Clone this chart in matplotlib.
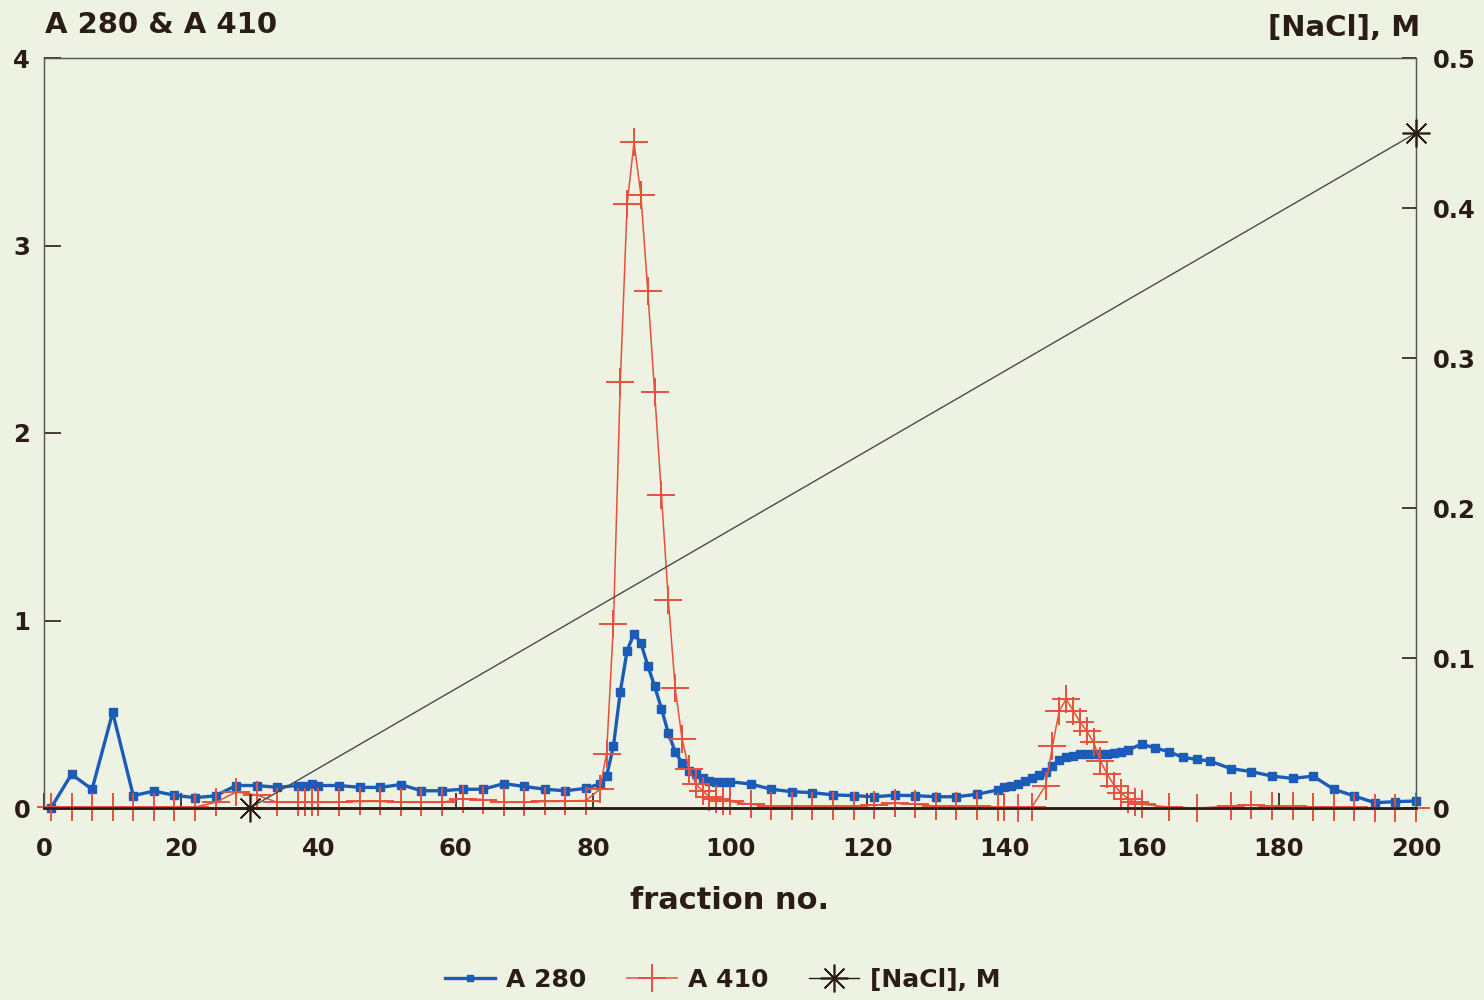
import matplotlib
matplotlib.use("Agg")
import matplotlib.pyplot as plt
from matplotlib.lines import Line2D

# A 280 (blue squares)
a280_frac = [1, 4, 7, 10, 13, 16, 19, 22, 25, 28, 31, 34, 37, 38, 39, 40, 43, 46, 49,
             52, 55, 58, 61, 64, 67, 70, 73, 76, 79, 81, 82, 83, 84, 85, 86, 87, 88, 89,
             90, 91, 92, 93, 94, 95, 96, 97, 98, 99, 100, 103, 106, 109, 112, 115, 118,
             121, 124, 127, 130, 133, 136, 139, 140, 141, 142, 143, 144, 145, 146, 147,
             148, 149, 150, 151, 152, 153, 154, 155, 156, 157, 158, 160, 162, 164, 166,
             168, 170, 173, 176, 179, 182, 185, 188, 191, 194, 197, 200]
a280_val = [0.0, 0.18, 0.10, 0.51, 0.066, 0.09, 0.068, 0.055, 0.065, 0.12, 0.12, 0.11,
            0.12, 0.12, 0.13, 0.12, 0.12, 0.11, 0.11, 0.125, 0.092, 0.092, 0.10, 0.10,
            0.13, 0.115, 0.10, 0.092, 0.105, 0.128, 0.17, 0.33, 0.62, 0.84, 0.93, 0.88,
            0.76, 0.65, 0.53, 0.40, 0.30, 0.24, 0.20, 0.18, 0.16, 0.145, 0.14, 0.14, 0.14,
            0.128, 0.10, 0.087, 0.082, 0.07, 0.066, 0.06, 0.068, 0.066, 0.06, 0.06, 0.073,
            0.096, 0.11, 0.12, 0.13, 0.145, 0.16, 0.176, 0.194, 0.224, 0.256, 0.274, 0.28,
            0.287, 0.29, 0.29, 0.29, 0.29, 0.295, 0.30, 0.31, 0.34, 0.32, 0.30, 0.27, 0.26,
            0.25, 0.21, 0.194, 0.17, 0.158, 0.17, 0.10, 0.064, 0.028, 0.034, 0.037]

# A 410 (red crosses)
a410_frac = [1, 4, 7, 10, 13, 16, 19, 22, 25, 28, 31, 34, 37, 38, 39, 40, 43, 46, 49,
             52, 55, 58, 61, 64, 67, 70, 73, 76, 79, 81, 82, 83, 84, 85, 86, 87, 88, 89,
             90, 91, 92, 93, 94, 95, 96, 97, 98, 99, 100, 103, 106, 109, 112, 115, 118,
             121, 124, 127, 130, 133, 136, 139, 140, 142, 144, 146, 147, 148, 149, 150,
             151, 152, 153, 154, 155, 156, 157, 158, 159, 160, 164, 168, 173, 176, 179,
             182, 185, 188, 191, 194, 197, 200]
a410_val = [0.005, 0.005, 0.005, 0.005, 0.005, 0.005, 0.005, 0.005, 0.03, 0.085, 0.07,
            0.03, 0.03, 0.03, 0.03, 0.03, 0.03, 0.035, 0.035, 0.03, 0.03, 0.03, 0.05, 0.045,
            0.03, 0.03, 0.035, 0.035, 0.04, 0.10, 0.29, 0.98, 2.27, 3.22, 3.55, 3.27, 2.76,
            2.22, 1.67, 1.11, 0.64, 0.37, 0.21, 0.13, 0.09, 0.06, 0.05, 0.04, 0.035, 0.02,
            0.01, 0.01, 0.01, 0.01, 0.01, 0.015, 0.025, 0.02, 0.01, 0.01, 0.01, 0.005, 0.005,
            0.0, 0.005, 0.12, 0.33, 0.52, 0.58, 0.52, 0.46, 0.41, 0.35, 0.25, 0.18, 0.12,
            0.08, 0.05, 0.03, 0.02, 0.005, 0.0, 0.01, 0.015, 0.01, 0.01, 0.005, 0.005, 0.005,
            0.0, 0.0, 0.0]

# NaCl gradient (right axis)
nacl_frac = [30, 200]
nacl_val = [0.0, 0.45]

BG = "#eef2e2"
INK = "#2a1c16"
BLUE = "#1a5cb8"
RED = "#e8503c"

plt.rcParams["font.family"] = ["DejaVu Sans"]
plt.rcParams["font.weight"] = "bold"

fig = plt.figure(figsize=(14.84, 10), dpi=100, facecolor=BG)
ax = fig.add_axes([0.0297, 0.192, 0.9245, 0.750], facecolor=BG)
ax2 = ax.twinx()

ax.plot(a280_frac, a280_val, color=BLUE, lw=2.4, marker="s", ms=5.5, zorder=3,
        clip_on=False)
ax.plot(a410_frac, a410_val, color=RED, lw=1.1, marker="+", ms=20, mew=1.4,
        zorder=4, clip_on=False)
ax2.plot(nacl_frac, nacl_val, color="#4a4a4a", lw=1.0, marker=(8, 2, 0), ms=20,
         mew=1.2, mec=INK, zorder=5, clip_on=False)

ax.set_xlim(0, 200)
ax.set_ylim(0, 4)
ax2.set_ylim(0, 0.5)

ax.set_xticks(range(0, 201, 20))
ax.set_yticks(range(0, 5))
ax2.set_yticks([0, 0.1, 0.2, 0.3, 0.4, 0.5])
ax2.set_yticklabels(["0", "0.1", "0.2", "0.3", "0.4", "0.5"])

ax.tick_params(axis="x", direction="in", length=11, width=1.2, color=INK, pad=21,
               labelsize=17.5, labelcolor=INK)
ax.tick_params(axis="y", direction="in", length=12, width=1.2, color=INK, pad=10,
               labelsize=17.5, labelcolor=INK)
ax2.tick_params(axis="y", direction="in", length=10, width=1.2, color=INK, pad=12,
                labelsize=17.5, labelcolor=INK)

for a in (ax, ax2):
    for side in ("left", "right", "top"):
        a.spines[side].set_color("#555555")
        a.spines[side].set_linewidth(0.9)
    a.spines["bottom"].set_color(INK)
    a.spines["bottom"].set_linewidth(1.8)
    a.patch.set_visible(False)

ax.set_xlabel("fraction no.", fontsize=22, fontweight="bold", color=INK, labelpad=18)
fig.text(0.03, 0.975, "A 280 & A 410", fontsize=21, fontweight="bold", color=INK,
         va="center", ha="left")
fig.text(0.957, 0.972, "[NaCl], M", fontsize=21, fontweight="bold", color=INK,
         va="center", ha="right")

handles = [
    Line2D([], [], color=BLUE, lw=2.4, marker="s", ms=5),
    Line2D([], [], color=RED, lw=1.1, marker="+", ms=20, mew=1.4),
    Line2D([], [], color=INK, lw=1.0, marker=(8, 2, 0), ms=20, mew=1.2),
]
leg = fig.legend(handles, ["A 280", "A 410", "[NaCl], M"], loc="center",
                 bbox_to_anchor=(0.487, 0.02), ncol=3, frameon=False, fontsize=18,
                 handlelength=2.0, columnspacing=1.6, handletextpad=0.45)
for t in leg.get_texts():
    t.set_color(INK)
    t.set_fontweight("bold")

fig.savefig("out.png", dpi=100, facecolor=BG)
